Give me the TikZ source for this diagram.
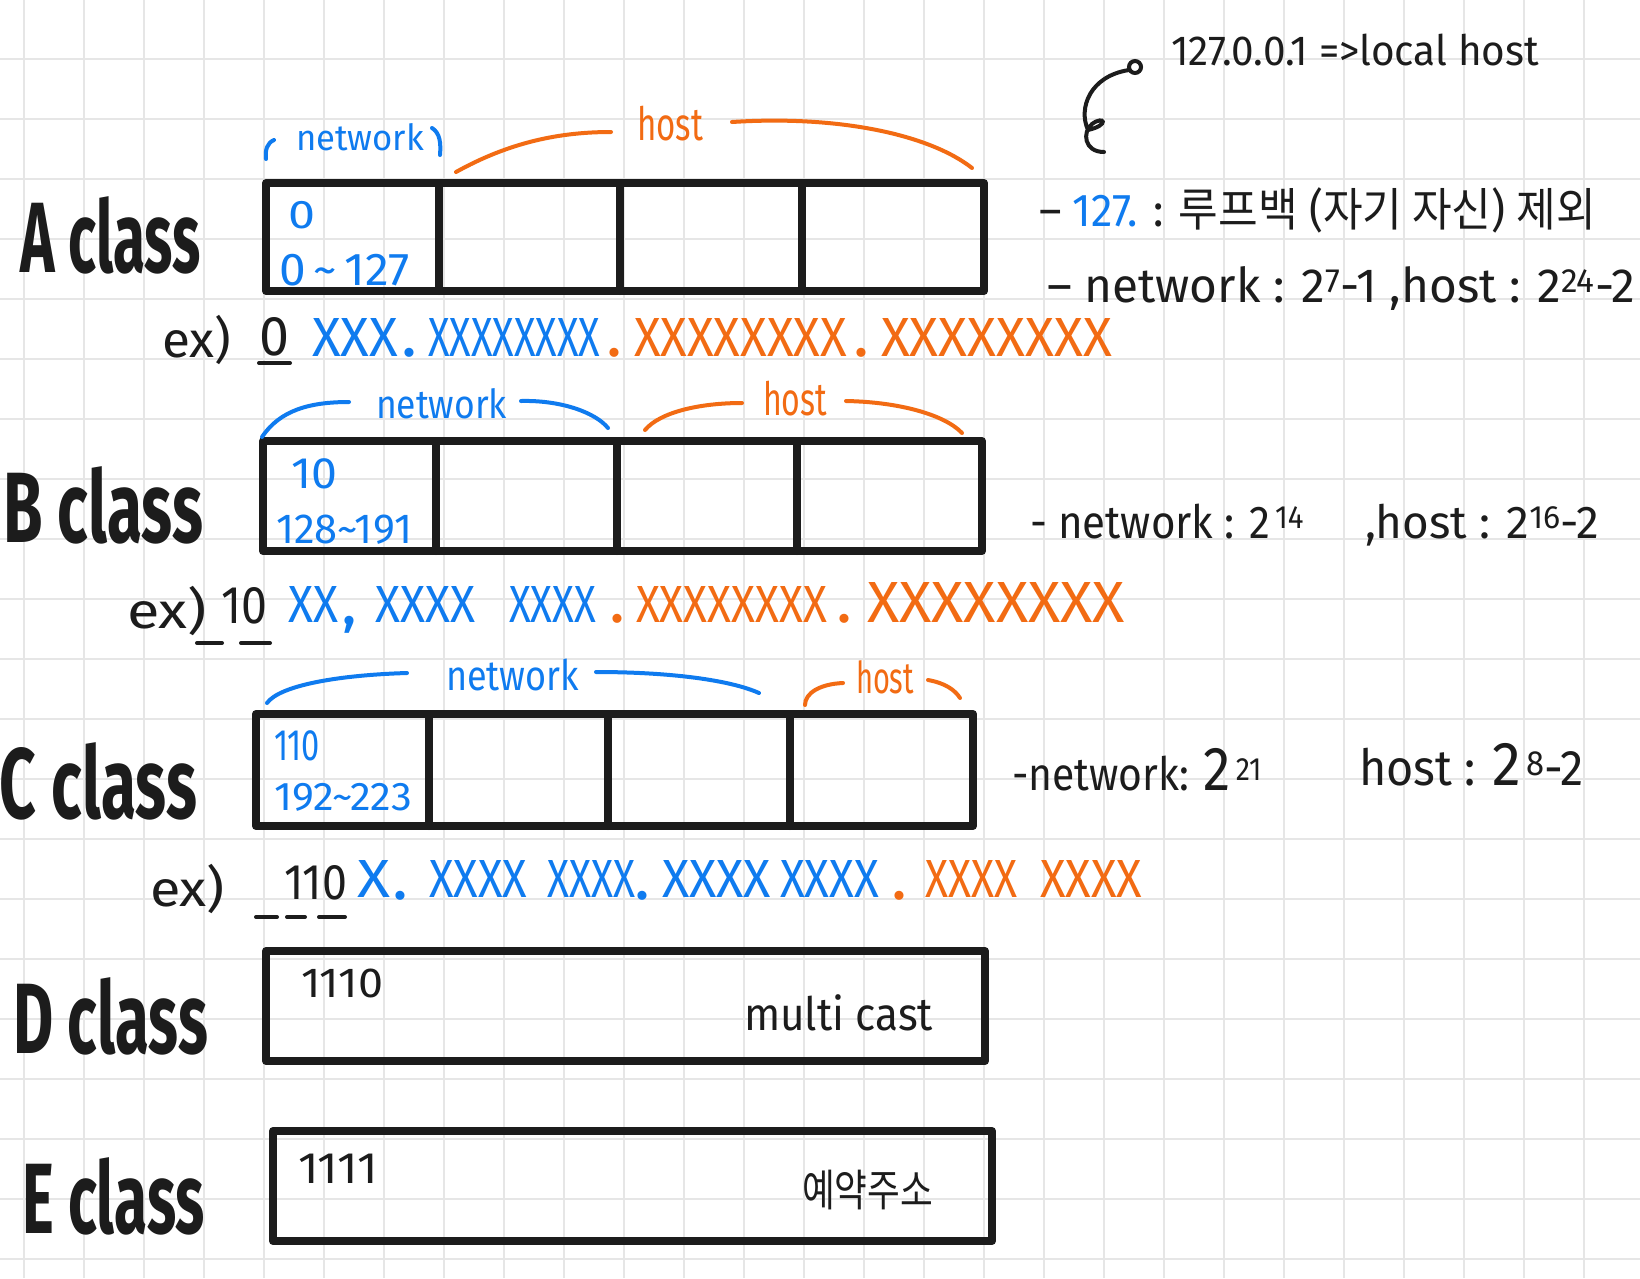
\documentclass[tikz,border=0pt]{standalone}
\usepackage{fontspec}
\setmainfont{Fira Sans}
\newfontfamily\kr{Noto Sans CJK KR}
\usepackage{graphicx}
\definecolor{inkc}{HTML}{1C1C1C}
\definecolor{bluec}{HTML}{0F7BEF}
\definecolor{orangec}{HTML}{F26B13}
\definecolor{gridc}{HTML}{E6E6E6}
\newcommand\fs[1]{\fontsize{#1}{#1}\selectfont}
\newcommand\hfit[2]{\resizebox{#1pt}{\height}{#2}}
\newcommand\xfit[3]{\resizebox{#1pt}{#2pt}{#3}}
\begin{document}
\begin{tikzpicture}[x=1pt,y=-1pt,
  txt/.style={inner sep=0pt, outer sep=0pt, anchor=base west, text=inkc},
  cls/.style={txt, font=\fs{100}\bfseries},
  xg/.style={inner sep=0pt, outer sep=0pt, anchor=south west},
  dotb/.style={txt, text=bluec, font=\fs{50}\bfseries},
  doto/.style={txt, text=orangec, font=\fs{50}\bfseries},
  boxline/.style={draw=inkc, line width=8pt, line join=round, line cap=round},
  bcurve/.style={draw=bluec, line width=4pt, line cap=round},
  ocurve/.style={draw=orangec, line width=4pt, line cap=round},
  kcurve/.style={draw=inkc, line width=4pt, line cap=round},
  ulstroke/.style={draw=inkc, line width=4pt, line cap=round},
]
\useasboundingbox (0,0) rectangle (1640,1278);
\fill[white] (0,0) rectangle (1640,1278);
\foreach \gx in {24,84,...,1584} \draw[gridc, line width=2pt] (\gx,0) -- (\gx,1278);
\foreach \gy in {59,119,...,1259} \draw[gridc, line width=2pt] (0,\gy) -- (1640,\gy);

% ---------- class labels ----------
\node[cls] (acls) at (20,272) {\hfit{181}{A class}};
\node[cls] (bcls) at (3,542) {\hfit{200}{B class}};
\node[cls] (ccls) at (0,818) {\hfit{197}{C class}};
\node[cls] (dcls) at (13,1053) {\hfit{195}{D class}};
\node[cls] (ecls) at (22,1233) {\hfit{183}{E class}};

% ---------- boxes ----------
\draw[boxline] (266,183) rectangle (984,291);
\foreach \dx in {439,620,802} \draw[boxline] (\dx,183) -- (\dx,291);
\draw[boxline] (263,441) rectangle (982,551);
\foreach \dx in {436,617,797} \draw[boxline] (\dx,441) -- (\dx,551);
\draw[boxline] (256,714) rectangle (973,826);
\foreach \dx in {429,608,790} \draw[boxline] (\dx,714) -- (\dx,826);
\draw[boxline] (266,951) rectangle (985,1061);
\draw[boxline] (273,1131) rectangle (992,1241);

% ---------- cell texts ----------
\node[txt, text=bluec, font=\fs{40}] (a0) at (288,228) {\hfit{27}{0}};
\node[txt, text=bluec, font=\fs{46}] (arng) at (279,285) {\hfit{131}{0\,\textasciitilde\,127}};
\node[txt, text=bluec, font=\fs{44}] (b10) at (291,488) {\hfit{46}{10}};
\node[txt, text=bluec, font=\fs{42}] (brng) at (276,543) {\hfit{136}{128\textasciitilde191}};
\node[txt, text=bluec, font=\fs{44}] (c110) at (274,760) {\hfit{46}{110}};
\node[txt, text=bluec, font=\fs{40}] (crng) at (274,810) {\hfit{138}{192\textasciitilde223}};
\node[txt, font=\fs{42}] (d1110) at (301,997) {\hfit{82}{1110}};
\node[txt, font=\fs{46}] (dmc) at (744,1030) {\hfit{189}{multi cast}};
\node[txt, font=\fs{44}] (e1111) at (298,1183) {\hfit{80}{1111}};
\node[txt, font=\fs{44}\kr] (eres) at (802,1206) {\hfit{131}{예약주소}};

% ---------- labels above boxes ----------
\node[txt, text=bluec, font=\fs{36}] (anet) at (296,150) {\hfit{128}{network}};
\draw[bcurve] (274,140) .. controls (267,143) and (265,150) .. (266,159);
\draw[bcurve] (432,128) .. controls (440,133) and (441,143) .. (440,155);
\node[txt, text=orangec, font=\fs{46}] (ahost) at (637,140) {\hfit{66}{host}};
\draw[ocurve] (456,172) .. controls (510,142) and (560,132) .. (611,132);
\draw[ocurve] (732,122) .. controls (840,115) and (930,135) .. (972,168);

\node[txt, text=bluec, font=\fs{40}] (bnet) at (376,418) {\hfit{131}{network}};
\draw[bcurve] (262,437) .. controls (280,410) and (310,402) .. (349,402);
\draw[bcurve] (521,401) .. controls (560,400) and (595,412) .. (608,428);
\node[txt, text=orangec, font=\fs{46}] (bhost) at (763,415) {\hfit{64}{host}};
\draw[ocurve] (645,430) .. controls (660,412) and (700,403) .. (742,403);
\draw[ocurve] (846,401) .. controls (900,402) and (945,415) .. (962,433);

\node[txt, text=bluec, font=\fs{42}] (cnet) at (446,690) {\hfit{133}{network}};
\draw[bcurve] (267,703) .. controls (280,685) and (340,675) .. (407,673);
\draw[bcurve] (596,672) .. controls (670,672) and (730,680) .. (759,693);
\node[txt, text=orangec, font=\fs{44}] (chost) at (856,693) {\hfit{58}{host}};
\draw[ocurve] (805,705) .. controls (805,693) and (820,684) .. (843,683);
\draw[ocurve] (928,680) .. controls (945,683) and (955,690) .. (960,698);

% ---------- example rows ----------
% A
\node[txt, font=\fs{50}] (aex) at (162,357) {\hfit{69}{ex)}};
\node[xg, text=inkc, font=\fs{50}] (aze) at (259,356) {\xfit{30}{38}{0}};
\draw[ulstroke] (259,363) -- (290,363);
\node[xg, text=bluec, font=\fs{50}] (ax1) at (312,356) {\xfit{86}{38}{XXX}};
\node[dotb] (ad1) at (403,356) {.};
\node[xg, text=bluec, font=\fs{50}] (ax2) at (428,356) {\xfit{172}{38}{XXXXXXXX}};
\node[doto] (ad2) at (608,356) {.};
\node[xg, text=orangec, font=\fs{50}] (ax3) at (634,356) {\xfit{213}{38}{XXXXXXXX}};
\node[doto] (ad3) at (855,356) {.};
\node[xg, text=orangec, font=\fs{50}] (ax4) at (881,356) {\xfit{231}{38}{XXXXXXXX}};
% B
\node[txt, font=\fs{50}] (bex) at (127,628) {\hfit{80}{ex)}};
\node[xg, text=inkc, font=\fs{50}] (bze) at (221,624) {\xfit{46}{36}{10}};
\draw[ulstroke] (197,643) -- (222,643);
\draw[ulstroke] (241,643) -- (270,643);
\node[xg, text=bluec, font=\fs{50}] (bx1) at (288,622) {\xfit{50}{36}{XX}};
\node[dotb] (bd1) at (343,624) {,};
\node[xg, text=bluec, font=\fs{50}] (bx2) at (375,622) {\xfit{100}{36}{XXXX}};
\node[xg, text=bluec, font=\fs{50}] (bx3) at (509,622) {\xfit{87}{36}{XXXX}};
\node[doto] (bd2) at (611,622) {.};
\node[xg, text=orangec, font=\fs{50}] (bx4) at (636,622) {\xfit{191}{36}{XXXXXXXX}};
\node[doto] (bd3) at (838,622) {.};
\node[xg, text=orangec, font=\fs{50}] (bx5) at (867,622) {\xfit{258}{40}{XXXXXXXX}};
% C
\node[txt, font=\fs{50}] (cex) at (150,906) {\hfit{75}{ex)}};
\node[xg, text=inkc, font=\fs{50}] (cze) at (284,900) {\xfit{63}{34}{110}};
\draw[ulstroke] (256,917) -- (277,917);
\draw[ulstroke] (287,917) -- (305,917);
\draw[ulstroke] (319,917) -- (345,917);
\node[xg, text=bluec, font=\fs{50}] (cx1) at (357,897) {\xfit{33}{37}{X}};
\node[dotb] (cd1) at (394,899) {.};
\node[xg, text=bluec, font=\fs{50}] (cx2) at (429,897) {\xfit{98}{37}{XXXX}};
\node[xg, text=bluec, font=\fs{50}] (cx3) at (547,897) {\xfit{88}{37}{XXXX}};
\node[dotb] (cd2) at (636,899) {.};
\node[xg, text=bluec, font=\fs{50}] (cx4) at (662,897) {\xfit{109}{37}{XXXX}};
\node[xg, text=bluec, font=\fs{50}] (cx5) at (780,897) {\xfit{99}{37}{XXXX}};
\node[doto] (cd3) at (893,899) {.};
\node[xg, text=orangec, font=\fs{50}] (cx6) at (925,897) {\xfit{92}{37}{XXXX}};
\node[xg, text=orangec, font=\fs{50}] (cx7) at (1040,897) {\xfit{102}{37}{XXXX}};

% ---------- notes ----------
\node[txt, font=\fs{42}] (loc) at (1171,65) {\hfit{368}{127.0.0.1 =>local host}};
\draw[kcurve] (1135,67) circle[radius=6];
\draw[kcurve] (1129,70) .. controls (1090,76) and (1078,108) .. (1088,130) .. controls (1110,125) and (1104,115) .. (1092,124) .. controls (1082,132) and (1084,152) .. (1104,152);
\node[txt, font=\fs{46}] (an1) at (1039,226) {\hfit{557}{– {\color{bluec}127.} : {\kr 루프백} ({\kr 자기 자신}) {\kr 제외}}};
\node[txt, font=\fs{48}] (an2) at (1047,302) {\hfit{588}{– network : 2\textsuperscript{7}-1 ,host : 2\textsuperscript{24}-2}};
\node[txt, font=\fs{46}] (bn1) at (1030,538) {\hfit{274}{- network : 2\textsuperscript{\,14}}};
\node[txt, font=\fs{46}] (bn2) at (1365,538) {\hfit{234}{,host : 2\textsuperscript{16}-2}};
\node[txt, font=\fs{46}] (cn1) at (1012,790) {\hfit{250}{-network: {\fs{62}2}\textsuperscript{\,21}}};
\node[txt, font=\fs{50}] (cn2) at (1359,785) {\hfit{225}{host : {\fs{62}2}\textsuperscript{\,8}-2}};
\end{tikzpicture}
\end{document}
